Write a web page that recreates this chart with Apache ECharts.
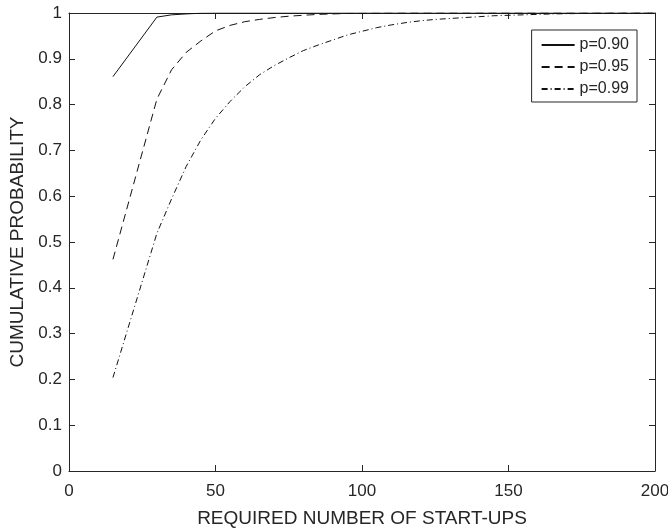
<!DOCTYPE html>
<html>
<head>
<meta charset="utf-8">
<script src="https://cdn.jsdelivr.net/npm/echarts@6/dist/echarts.min.js"></script>
<style>html,body{margin:0;padding:0;background:#fff}#c{width:668px;height:531px}</style>
</head>
<body>
<div id="c"></div>
<script>
var xTicks = [0, 50, 100, 150, 200];
var seriesNames = ['p=0.90', 'p=0.95', 'p=0.99'];
var xVals = [15, 30, 35, 40, 45, 50, 55, 60, 65, 70, 75, 80, 85, 90, 95, 100, 105, 110, 115, 120, 125, 130, 135, 140, 145, 150, 155, 160, 165, 170, 175, 180, 185, 190, 195, 200];
var p90 = [0.861, 0.991, 0.996, 0.998, 0.9995, 1, 1, 1, 1, 1, 1, 1, 1, 1, 1, 1, 1, 1, 1, 1, 1, 1, 1, 1, 1, 1, 1, 1, 1, 1, 1, 1, 1, 1, 1, 1];
var p95 = [0.462, 0.812, 0.876, 0.914, 0.939, 0.961, 0.973, 0.981, 0.986, 0.990, 0.993, 0.995, 0.997, 0.998, 0.999, 0.9993, 0.9996, 0.9998, 1, 1, 1, 1, 1, 1, 1, 1, 1, 1, 1, 1, 1, 1, 1, 1, 1, 1];
var p99 = [0.204, 0.519, 0.594, 0.665, 0.723, 0.770, 0.807, 0.839, 0.865, 0.885, 0.902, 0.918, 0.930, 0.941, 0.952, 0.960, 0.968, 0.974, 0.979, 0.983, 0.986, 0.988, 0.990, 0.992, 0.994, 0.995, 0.996, 0.997, 0.998, 0.9985, 0.999, 0.9993, 0.9995, 0.9996, 0.9997, 0.9998];

function pairs(ys) { return xVals.map(function (x, i) { return [x, ys[i]]; }); }

var txt = '#262626';
var axisCol = '#262626';
var font = 'Liberation Sans, Arial, sans-serif';
var chart = echarts.init(document.getElementById('c'), null, {renderer: 'canvas'});

function xAx(pos, show) {
  return {
    type: 'value', position: pos, min: xTicks[0], max: xTicks[xTicks.length - 1], interval: xTicks[1] - xTicks[0],
    axisLine: {show: true, onZero: false, lineStyle: {color: axisCol, width: 1}},
    axisTick: {show: true, inside: true, length: 6, lineStyle: {color: axisCol}},
    axisLabel: {show: show, color: txt, fontSize: 17, fontFamily: font, margin: 12},
    splitLine: {show: false},
    name: show ? 'REQUIRED NUMBER OF START-UPS' : '',
    nameLocation: 'middle', nameGap: 38,
    nameTextStyle: {color: txt, fontSize: 19, fontFamily: font}
  };
}
function yAx(pos, show) {
  return {
    type: 'value', position: pos, min: 0, max: 1, interval: 0.1,
    axisLine: {show: true, onZero: false, lineStyle: {color: axisCol, width: 1}},
    axisTick: {show: true, inside: true, length: 6, lineStyle: {color: axisCol}},
    axisLabel: {show: show, color: txt, fontSize: 17, fontFamily: font, margin: 7},
    splitLine: {show: false},
    name: show ? 'CUMULATIVE PROBABILITY' : '',
    nameLocation: 'middle', nameGap: 40,
    nameTextStyle: {color: txt, fontSize: 19, fontFamily: font}
  };
}

var lineTypes = ['solid', [8, 5], [6, 3, 1, 3]];
var datas = [p90, p95, p99];

chart.setOption({
  animation: false,
  backgroundColor: '#fff',
  grid: {left: 69, right: 13, top: 13, bottom: 60, containLabel: false, outerBoundsMode: 'none'},
  xAxis: [xAx('bottom', true), xAx('top', false)],
  yAxis: [yAx('left', true), yAx('right', false)],
  legend: {
    orient: 'vertical', right: 31, top: 30,
    data: seriesNames,
    itemWidth: 33, itemHeight: 14, itemGap: 6,
    padding: [7, 8, 5, 9],
    borderColor: '#262626', borderWidth: 1, borderRadius: 0,
    backgroundColor: '#fff',
    itemStyle: {opacity: 0},
    textStyle: {color: txt, fontSize: 16, fontFamily: font}
  },
  series: seriesNames.map(function (n, i) {
    return {
      name: n, type: 'line', xAxisIndex: 0, yAxisIndex: 0,
      data: pairs(datas[i]),
      symbol: 'none', showSymbol: false,
      lineStyle: {color: '#111', width: 1, type: lineTypes[i]},
      itemStyle: {color: '#111'},
      emphasis: {disabled: true}
    };
  })
});
</script>
</body>
</html>
